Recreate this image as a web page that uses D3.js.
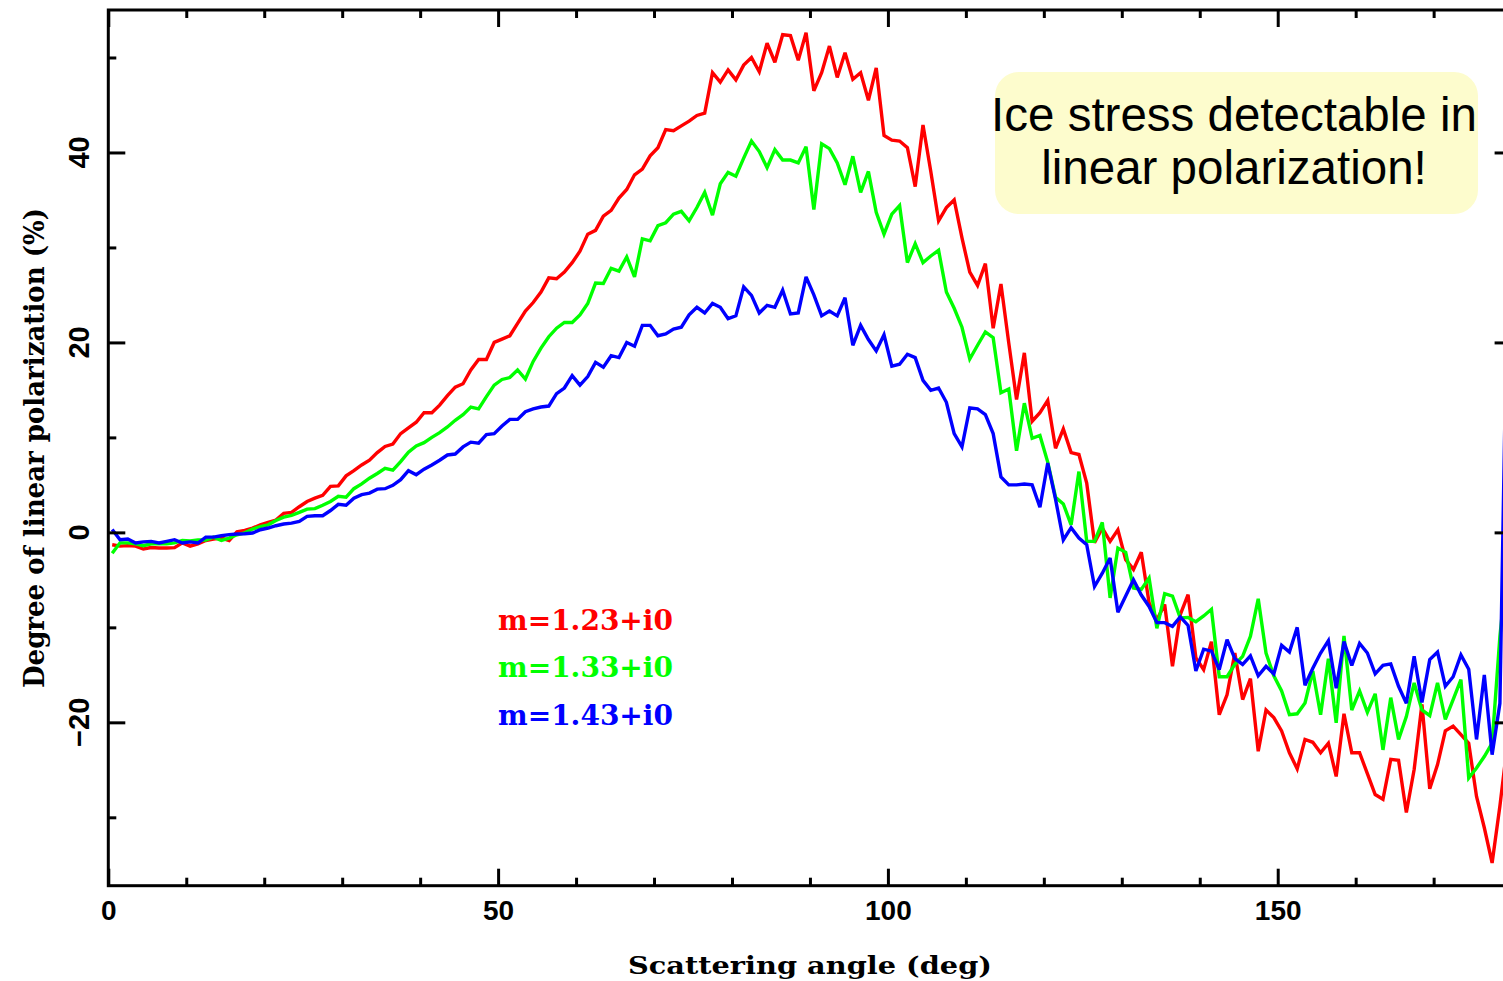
<!DOCTYPE html>
<html><head><meta charset="utf-8">
<script src="https://cdn.jsdelivr.net/npm/d3@7"></script>
<style>html,body{margin:0;padding:0;background:#fff;} svg{display:block}</style>
</head><body><svg id="chart" width="1503" height="981"></svg>
<script>
// Scattering angle bin centres (deg)
const angles = [0.5,1.5,2.5,3.5,4.5,5.5,6.5,7.5,8.5,9.5,10.5,11.5,12.5,13.5,14.5,15.5,16.5,17.5,18.5,19.5,
20.5,21.5,22.5,23.5,24.5,25.5,26.5,27.5,28.5,29.5,30.5,31.5,32.5,33.5,34.5,35.5,36.5,37.5,38.5,39.5,
40.5,41.5,42.5,43.5,44.5,45.5,46.5,47.5,48.5,49.5,50.5,51.5,52.5,53.5,54.5,55.5,56.5,57.5,58.5,59.5,
60.5,61.5,62.5,63.5,64.5,65.5,66.5,67.5,68.5,69.5,70.5,71.5,72.5,73.5,74.5,75.5,76.5,77.5,78.5,79.5,
80.5,81.5,82.5,83.5,84.5,85.5,86.5,87.5,88.5,89.5,90.5,91.5,92.5,93.5,94.5,95.5,96.5,97.5,98.5,99.5,
100.5,101.5,102.5,103.5,104.5,105.5,106.5,107.5,108.5,109.5,110.5,111.5,112.5,113.5,114.5,115.5,116.5,117.5,118.5,119.5,
120.5,121.5,122.5,123.5,124.5,125.5,126.5,127.5,128.5,129.5,130.5,131.5,132.5,133.5,134.5,135.5,136.5,137.5,138.5,139.5,
140.5,141.5,142.5,143.5,144.5,145.5,146.5,147.5,148.5,149.5,150.5,151.5,152.5,153.5,154.5,155.5,156.5,157.5,158.5,159.5,
160.5,161.5,162.5,163.5,164.5,165.5,166.5,167.5,168.5,169.5,170.5,171.5,172.5,173.5,174.5,175.5,176.5,177.5,178.5,179.5];

// Degree of linear polarization (%), m = 1.23 + i0
const pol123 = [-1.3,-1.45,-1.4,-1.45,-1.75,-1.6,-1.65,-1.65,-1.6,-1.1,-1.45,-1.2,-0.85,-0.7,-0.6,-0.85,0.05,0.2,0.45,0.8,
1.05,1.3,2.0,2.1,2.7,3.25,3.6,3.9,4.85,4.9,5.95,6.5,7.1,7.6,8.4,9.05,9.3,10.4,11.0,11.6,
12.6,12.6,13.4,14.4,15.3,15.65,17.1,18.2,18.2,20.0,20.35,20.7,22.0,23.3,24.2,25.3,26.8,26.7,27.4,28.4,
29.6,31.4,31.8,33.3,33.9,35.2,36.1,37.65,38.25,39.65,40.5,42.4,42.3,42.8,43.3,43.9,44.15,48.4,47.4,48.7,
47.65,49.2,50.0,48.5,51.5,49.5,52.4,52.3,49.7,52.6,46.5,48.4,51.2,47.9,50.5,47.7,48.4,45.5,48.9,41.8,
41.3,41.2,40.5,36.4,42.9,38.0,32.8,34.2,35.0,31.0,27.4,26.0,28.3,21.5,26.15,19.95,14.0,18.9,11.7,12.6,
13.9,8.85,10.9,8.4,8.2,5.2,-1.1,0.46,-0.95,0.28,-2.87,-3.9,-2.1,-7.4,-9.2,-7.6,-14.1,-8.66,-6.56,-13.2,
-14.45,-11.5,-19.2,-17.1,-12.7,-17.6,-15.4,-23.05,-18.7,-19.5,-20.9,-23.2,-24.9,-21.8,-22.1,-23.2,-22.2,-25.7,-19.1,-23.2,
-23.2,-25.4,-27.6,-28.1,-23.9,-24.0,-29.5,-24.97,-18.1,-27.0,-24.45,-20.9,-20.4,-21.3,-22.2,-27.8,-31.1,-34.8,-28.8,-22.0];

// m = 1.33 + i0
const pol133 = [-2.2,-1.1,-1.1,-1.2,-1.4,-1.2,-1.2,-1.2,-1.1,-0.85,-0.9,-0.8,-0.8,-0.5,-0.85,-0.6,-0.25,-0.05,0.35,0.6,
0.8,1.25,1.6,1.8,2.1,2.45,2.5,2.85,3.25,3.8,3.7,4.6,5.1,5.7,6.2,6.75,6.55,7.45,8.45,9.1,
9.45,10.0,10.5,11.1,11.8,12.4,13.2,13.0,14.3,15.5,16.1,16.3,17.1,16.15,18.0,19.4,20.6,21.5,22.1,22.1,
22.9,24.1,26.25,26.2,27.8,27.5,29.0,26.9,30.9,30.7,32.3,32.6,33.5,33.8,32.8,34.2,35.8,33.4,36.7,37.9,
37.5,39.4,41.2,40.1,38.4,40.3,39.2,39.2,38.9,40.6,34.0,40.9,40.4,38.9,36.6,39.6,35.8,38.0,33.7,31.4,
33.5,34.4,28.4,30.4,28.4,29.1,29.7,25.3,23.6,21.6,18.25,19.7,21.1,20.5,14.7,15.1,8.6,13.6,9.9,10.2,
7.4,3.7,3.0,0.8,6.4,-0.95,-0.95,1.05,-6.9,-1.65,-2.1,-5.85,-6.0,-4.8,-10.1,-6.45,-6.7,-9.0,-8.95,-9.4,
-8.8,-8.1,-15.2,-15.2,-13.9,-13.05,-10.95,-7.0,-12.7,-15.1,-16.7,-19.2,-19.1,-17.96,-14.6,-19.2,-13.3,-20.05,-10.9,-18.7,
-16.7,-18.95,-17.0,-22.9,-17.4,-21.8,-19.4,-15.85,-18.7,-19.3,-15.85,-19.7,-17.6,-15.5,-25.85,-24.8,-23.6,-22.2,-10.95,-3.0];

// m = 1.43 + i0
const pol143 = [0.3,-0.77,-0.7,-1.12,-1.0,-0.95,-1.12,-0.95,-0.77,-1.12,-1.0,-1.12,-0.5,-0.5,-0.35,-0.24,-0.17,-0.14,-0.07,0.28,
0.46,0.7,0.88,0.98,1.16,1.68,1.75,1.75,2.3,2.95,2.85,3.6,3.97,4.14,4.55,4.6,4.95,5.55,6.5,6.07,
6.65,7.1,7.6,8.15,8.25,9.0,9.5,9.4,10.3,10.4,11.2,11.9,11.9,12.7,13.0,13.2,13.3,14.6,15.2,16.5,
15.5,16.4,17.9,17.4,18.6,18.4,20.0,19.6,21.8,21.8,20.7,20.9,21.4,21.6,22.9,23.7,23.1,24.1,23.7,22.5,
22.8,25.85,24.95,23.1,23.9,23.7,25.5,23.0,23.1,26.9,25.0,22.8,23.3,22.8,24.7,19.7,21.8,20.3,19.1,20.8,
17.5,17.7,18.75,18.4,16.0,14.95,15.2,13.7,10.4,9.0,13.1,13.0,12.4,10.4,5.85,5.0,5.0,5.1,5.0,2.65,
7.3,3.5,-0.8,0.5,-0.6,-1.3,-5.7,-4.3,-2.7,-8.4,-6.7,-5.0,-6.6,-7.8,-9.5,-9.5,-9.9,-8.9,-9.8,-14.6,
-12.3,-12.5,-14.45,-11.3,-13.3,-13.9,-13.0,-15.1,-14.1,-14.9,-11.9,-12.6,-10.0,-16.1,-14.3,-12.7,-11.4,-16.4,-11.5,-14.0,
-11.7,-12.7,-14.9,-14.0,-13.85,-16.2,-18.0,-13.05,-17.9,-13.4,-12.6,-16.2,-15.2,-12.9,-14.4,-21.8,-15.0,-23.4,-18.0,29.0];

const seriesNames = ["m=1.23+i0", "m=1.33+i0", "m=1.43+i0"];
const seriesColors = ["#ff0000", "#00ff00", "#0000ff"];
const seriesValues = [pol123, pol133, pol143];

const xMajorTicks = [0, 50, 100, 150];
const xMinorTicks = [10, 20, 30, 40, 60, 70, 80, 90, 110, 120, 130, 140, 160, 170];
const yMajorTicks = [-20, 0, 20, 40];
const yMinorTicks = [-30, -10, 10, 30, 50];

const xTitle = "Scattering angle (deg)";
const yTitle = "Degree of linear polarization (%)";
const noteLines = ["Ice stress detectable in", "linear polarization!"];

// ---------- drawing ----------
const svg = d3.select("#chart");
const L = 108.3, R = 1511.6, T = 10, B = 885.7;
const x = d3.scaleLinear().domain([0, 180]).range([L, R]);
const y = d3.scaleLinear().domain([-37.2, 55]).range([B, T]);

svg.append("defs").append("clipPath").attr("id", "plotclip")
  .append("rect").attr("x", L).attr("y", T).attr("width", R - L).attr("height", B - T);

// data lines
const line = d3.line().x(d => x(d[0])).y(d => y(d[1]));
const g = svg.append("g").attr("clip-path", "url(#plotclip)");
seriesValues.forEach((vals, i) => {
  g.append("path")
    .datum(angles.map((a, j) => [a, vals[j]]))
    .attr("d", line)
    .attr("fill", "none")
    .attr("stroke", seriesColors[i])
    .attr("stroke-width", 3.4)
    .attr("stroke-linejoin", "miter")
    .attr("stroke-miterlimit", 3);
});

// axes (inward ticks on all four sides)
function styleAxis(sel) {
  sel.select(".domain").remove();
  sel.selectAll(".tick line").attr("stroke", "#000").attr("stroke-width", 3);
}
const tickFont = "'Liberation Sans', Arial, sans-serif";

const bottomMajor = svg.append("g").attr("transform", `translate(0,${B})`)
  .call(d3.axisBottom(x).tickValues(xMajorTicks).tickSize(-17).tickPadding(14).tickFormat(d3.format("d")));
styleAxis(bottomMajor);
bottomMajor.selectAll("text").attr("font-family", tickFont).attr("font-weight", "bold")
  .attr("font-size", 28).attr("fill", "#000");
const bottomMinor = svg.append("g").attr("transform", `translate(0,${B})`)
  .call(d3.axisBottom(x).tickValues(xMinorTicks).tickSize(-8).tickFormat(""));
styleAxis(bottomMinor);

const topMajor = svg.append("g").attr("transform", `translate(0,${T})`)
  .call(d3.axisTop(x).tickValues(xMajorTicks).tickSize(-17).tickFormat(""));
styleAxis(topMajor);
const topMinor = svg.append("g").attr("transform", `translate(0,${T})`)
  .call(d3.axisTop(x).tickValues(xMinorTicks).tickSize(-8).tickFormat(""));
styleAxis(topMinor);

const leftMajor = svg.append("g").attr("transform", `translate(${L},0)`)
  .call(d3.axisLeft(y).tickValues(yMajorTicks).tickSize(-17).tickFormat(""));
styleAxis(leftMajor);
const leftMinor = svg.append("g").attr("transform", `translate(${L},0)`)
  .call(d3.axisLeft(y).tickValues(yMinorTicks).tickSize(-8).tickFormat(""));
styleAxis(leftMinor);

const rightMajor = svg.append("g").attr("transform", `translate(${R},0)`)
  .call(d3.axisRight(y).tickValues(yMajorTicks).tickSize(-17).tickFormat(""));
styleAxis(rightMajor);
const rightMinor = svg.append("g").attr("transform", `translate(${R},0)`)
  .call(d3.axisRight(y).tickValues(yMinorTicks).tickSize(-8).tickFormat(""));
styleAxis(rightMinor);

// rotated y tick labels
const yfmt = d3.format("d");
svg.append("g").selectAll("text").data(yMajorTicks).join("text")
  .attr("transform", d => `translate(89,${y(d)}) rotate(-90)`)
  .attr("text-anchor", "middle")
  .attr("font-family", tickFont).attr("font-weight", "bold").attr("font-size", 29)
  .text(d => yfmt(d));

// frame
svg.append("rect").attr("x", L).attr("y", T).attr("width", R - L).attr("height", B - T)
  .attr("fill", "none").attr("stroke", "#000").attr("stroke-width", 3);

// axis titles
const titleFont = "'DejaVu Serif', 'Liberation Serif', serif";
svg.append("text").attr("x", (L + R) / 2).attr("y", 974)
  .attr("text-anchor", "middle").attr("font-family", titleFont).attr("font-weight", "bold")
  .attr("font-size", 25).attr("textLength", 364).attr("lengthAdjust", "spacingAndGlyphs")
  .text(xTitle);
svg.append("text").attr("transform", `translate(44,448) rotate(-90)`)
  .attr("text-anchor", "middle").attr("font-family", titleFont).attr("font-weight", "bold")
  .attr("font-size", 27).attr("textLength", 480).attr("lengthAdjust", "spacingAndGlyphs")
  .text(yTitle);

// legend
const legend = svg.append("g");
seriesNames.forEach((name, i) => {
  legend.append("text").attr("x", 498).attr("y", 630 + i * 47.3)
    .attr("font-family", titleFont).attr("font-weight", "bold").attr("font-size", 27)
    .attr("textLength", 175).attr("lengthAdjust", "spacingAndGlyphs")
    .attr("fill", seriesColors[i]).text(name);
});

// annotation box
svg.append("rect").attr("x", 995).attr("y", 72).attr("width", 483).attr("height", 142)
  .attr("rx", 24).attr("ry", 24).attr("fill", "#fdfccd");
noteLines.forEach((t, i) => {
  svg.append("text").attr("x", 1234).attr("y", 131 + i * 53)
    .attr("text-anchor", "middle").attr("font-family", "'Liberation Sans', Arial, sans-serif")
    .attr("font-size", 47.5).attr("fill", "#000").text(t);
});
</script>
</body></html>
